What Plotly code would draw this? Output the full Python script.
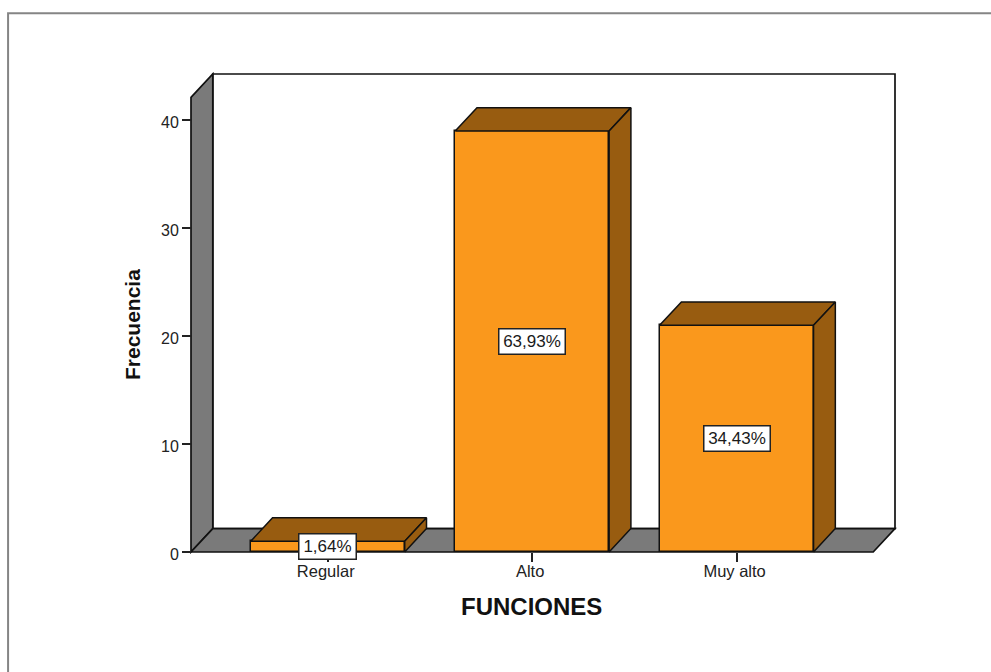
import plotly.graph_objects as go

# Data
categories = ["Regular", "Alto", "Muy alto"]
frequencies = [1, 39, 21]
percent_labels = ["1,64%", "63,93%", "34,43%"]
y_ticks = [0, 10, 20, 30, 40]
x_title = "FUNCIONES"
y_title = "Frecuencia"

# Colours
ORANGE = "#FA981C"
BROWN = "#985C10"
GREY = "#7A7A7A"
FRAME = "#858585"

# Pixel geometry of the drawing
W, H = 991, 672
X0_PX, X_UNIT = 327.3, 204.5     # px of category 0, px per category
Y0_PX, Y_UNIT = 551.7, 10.78     # px of value 0, px per unit
LEFT_PX, RIGHT_PX, TOP_PX = 190.5, 873.0, 74.3
DX_PX, DY_PX = 21.8, 23.4        # oblique depth
PAD = 6
BAR_W = 154 / X_UNIT
LABEL_W = [54, 63, 63]

ml, mr = LEFT_PX - PAD, W - (RIGHT_PX + DX_PX + PAD)
mt, mb = TOP_PX - PAD, H - (Y0_PX + PAD)
plot_w, plot_h = W - ml - mr, H - mt - mb


def xv(px):
    return (px - X0_PX) / X_UNIT


def yv(px):
    return (Y0_PX - px) / Y_UNIT


def xp(px):
    return (px - ml) / plot_w


def yp(px):
    return 1 - (px - mt) / plot_h


dx = DX_PX / X_UNIT
dy = DY_PX / Y_UNIT
xl, xr = xv(LEFT_PX), xv(RIGHT_PX)
ytop = yv(TOP_PX)


def poly(xs, ys, fill, width=1.7):
    path = "M " + " L ".join(f"{a},{b}" for a, b in zip(xs, ys)) + " Z"
    return dict(type="path", path=path, xref="x", yref="y", fillcolor=fill,
                line=dict(color="#111111", width=width), layer="below")


shapes = [
    # back wall
    poly([xl + dx, xr + dx, xr + dx, xl + dx], [dy, dy, ytop, ytop], "white"),
    # left wall
    poly([xl, xl + dx, xl + dx, xl], [0, dy, ytop, ytop - dy], GREY),
    # floor
    poly([xl, xr, xr + dx, xl + dx], [0, 0, dy, dy], GREY),
    # outer frame
    dict(type="path", xref="paper", yref="paper",
         path=f"M {xp(7.5)},{yp(680)} L {xp(7.5)},{yp(13.5)} L {xp(1000)},{yp(13.5)}",
         line=dict(color=FRAME, width=2), layer="below"),
]

fig = go.Figure()

# Front faces
fig.add_trace(go.Bar(
    x=list(range(len(categories))), y=frequencies, width=BAR_W,
    marker=dict(color=ORANGE, line=dict(color="#111111", width=1.5)),
    hoverinfo="skip", showlegend=False,
))

# Top and side faces
for i, v in enumerate(frequencies):
    a, b = i - BAR_W / 2, i + BAR_W / 2
    fig.add_trace(go.Scatter(
        x=[a, b, b + dx, a + dx, a], y=[v, v, v + dy, v + dy, v],
        mode="lines", fill="toself", fillcolor=BROWN,
        line=dict(color="#111111", width=1.5), hoverinfo="skip", showlegend=False,
    ))
    fig.add_trace(go.Scatter(
        x=[b, b + dx, b + dx, b, b], y=[0, dy, v + dy, v, 0],
        mode="lines", fill="toself", fillcolor=BROWN,
        line=dict(color="#111111", width=1.5), hoverinfo="skip", showlegend=False,
    ))

annotations = [
    dict(x=i, y=v / 2, xref="x", yref="y", text=lab, showarrow=False,
         font=dict(family="Liberation Sans", size=17, color="#1a1a1a"),
         bgcolor="white", bordercolor="#222222", borderwidth=1.5,
         width=w, height=22, align="center", valign="middle",
         xanchor="center", yanchor="middle")
    for i, (v, lab, w) in enumerate(zip(frequencies, percent_labels, LABEL_W))
]
annotations += [
    dict(x=xp(531), y=yp(606), xref="paper", yref="paper", text=f"<b>{x_title}</b>",
         xanchor="center", yanchor="middle",
         showarrow=False, font=dict(family="Liberation Sans", size=24, color="#111111")),
    dict(x=xp(131.5), y=yp(325), xref="paper", yref="paper", text=f"<b>{y_title}</b>",
         xanchor="center", yanchor="middle",
         textangle=-90, showarrow=False,
         font=dict(family="Liberation Sans", size=21, color="#111111")),
]

fig.update_layout(
    width=W, height=H, autosize=False,
    margin=dict(l=ml, r=mr, t=mt, b=mb, pad=0),
    paper_bgcolor="white", plot_bgcolor="white",
    shapes=shapes, annotations=annotations,
    bargap=0, showlegend=False, hovermode=False,
    xaxis=dict(
        range=[xv(LEFT_PX - PAD), xv(RIGHT_PX + DX_PX + PAD)],
        tickmode="array", tickvals=list(range(len(categories))), ticktext=categories,
        ticks="outside", ticklen=9, tickwidth=1.5, tickcolor="#222222",
        showgrid=False, zeroline=False, showline=False,
        anchor="free", position=PAD / plot_h,
        ticklabelstandoff=-5, ticklabelshift=-2,
        tickfont=dict(family="Liberation Sans", size=16.5, color="#222222"),
    ),
    yaxis=dict(
        range=[yv(Y0_PX + PAD), yv(TOP_PX - PAD)],
        tickmode="array", tickvals=y_ticks,
        ticks="outside", ticklen=9, tickwidth=1.5, tickcolor="#222222",
        showgrid=False, zeroline=False, showline=False,
        anchor="free", position=PAD / plot_w,
        ticklabelshift=2,
        tickfont=dict(family="Liberation Sans", size=16, color="#222222"),
    ),
)

fig.write_html("out.html", config={"displayModeBar": False},
               post_script="document.body.style.margin='0';document.body.style.overflow='hidden';")
